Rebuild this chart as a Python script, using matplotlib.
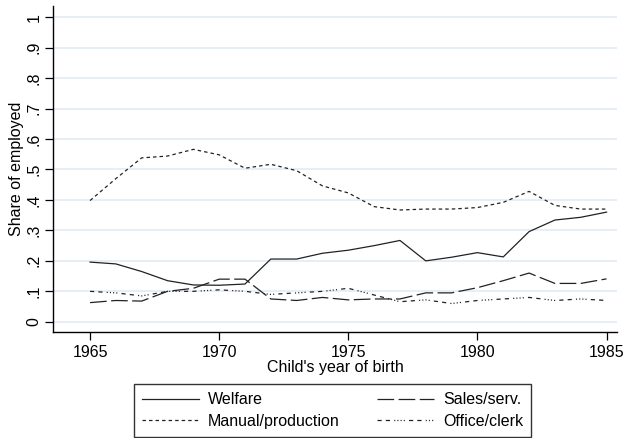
import matplotlib
matplotlib.use("Agg")
import matplotlib.pyplot as plt

plt.rcParams['font.family'] = ['Liberation Sans', 'DejaVu Sans']
plt.rcParams['lines.scale_dashes'] = False

# Share of employed by occupation group, per child's year of birth
years = list(range(1965, 1986))
welfare = [0.196, 0.190, 0.165, 0.135, 0.121, 0.120, 0.124, 0.206, 0.206, 0.225,
           0.235, 0.250, 0.267, 0.200, 0.212, 0.227, 0.213, 0.296, 0.334, 0.343, 0.360]
manual = [0.398, 0.470, 0.538, 0.544, 0.566, 0.548, 0.504, 0.517, 0.496, 0.446,
          0.423, 0.378, 0.367, 0.370, 0.370, 0.375, 0.392, 0.428, 0.382, 0.370, 0.370]
sales = [0.063, 0.070, 0.068, 0.100, 0.110, 0.140, 0.140, 0.075, 0.070, 0.080,
         0.072, 0.075, 0.075, 0.095, 0.095, 0.112, 0.135, 0.160, 0.126, 0.126, 0.141]
office = [0.100, 0.095, 0.085, 0.100, 0.100, 0.105, 0.100, 0.090, 0.095, 0.100,
          0.110, 0.088, 0.066, 0.072, 0.060, 0.070, 0.075, 0.080, 0.070, 0.075, 0.070]

y_ticks = [0, 0.1, 0.2, 0.3, 0.4, 0.5, 0.6, 0.7, 0.8, 0.9, 1.0]
y_tick_labels = ['0', '.1', '.2', '.3', '.4', '.5', '.6', '.7', '.8', '.9', '1']
x_ticks = [1965, 1970, 1975, 1980, 1985]

fig = plt.figure(figsize=(6.25, 4.38), dpi=100)
ax = fig.add_axes([0.085, 0.243, 0.902, 0.743])

lw = 0.9
col = '#222222'
ax.plot(years, welfare, color=col, lw=lw, label='Welfare')
ax.plot(years, manual, color=col, lw=lw, dashes=(2.5, 2.2), label='Manual/production')
ax.plot(years, sales, color=col, lw=lw, dashes=(12, 3.2), label='Sales/serv.')
ax.plot(years, office, color=col, lw=lw,
        dashes=(3, 3, 3, 3, 0.8, 1.5, 0.8, 1.5, 0.8, 1.5, 0.8, 3), label='Office/clerk')

ax.set_xlim(1963.57, 1985.4)
ax.set_ylim(-0.032, 1.036)
ax.set_xticks(x_ticks)
ax.set_yticks(y_ticks)
ax.set_yticklabels(y_tick_labels, rotation=90, va='center')
ax.tick_params(axis='both', labelsize=11.5, length=5.5, width=0.9, direction='out', colors='black')
ax.tick_params(axis='y', pad=3)
ax.tick_params(axis='x', pad=4)

# light horizontal grid only
ax.yaxis.grid(True, color='#e4ebf5', lw=1.2)
ax.set_axisbelow(True)
for side in ['top', 'right']:
    ax.spines[side].set_visible(False)
for side in ['left', 'bottom']:
    ax.spines[side].set_linewidth(1.0)

ax.set_xlabel("Child's year of birth", fontsize=11.5, labelpad=0)
ax.set_ylabel('Share of employed', fontsize=11.5, labelpad=2)

leg = fig.legend(loc='upper center', bbox_to_anchor=(0.532, 0.123), ncol=2,
                 fontsize=11.5, frameon=True, fancybox=False, handlelength=3.6,
                 handletextpad=0.55, columnspacing=2.3, labelspacing=0.42,
                 borderpad=0.5, borderaxespad=0)
leg.get_frame().set_edgecolor('black')
leg.get_frame().set_linewidth(1.0)

fig.savefig('out.png', dpi=100)
